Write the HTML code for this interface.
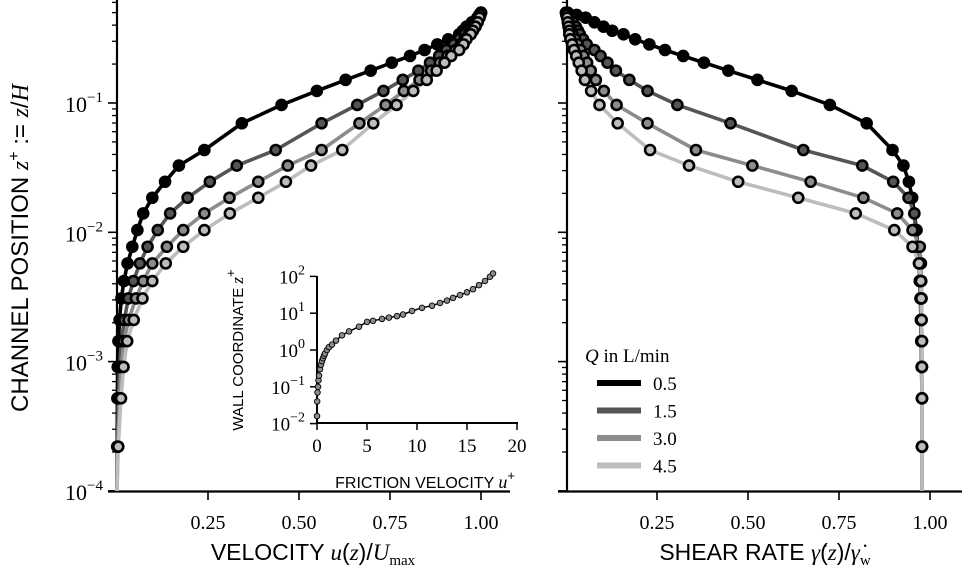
<!DOCTYPE html>
<html><head><meta charset="utf-8">
<style>
html,body{margin:0;padding:0;background:#fff;}
svg{display:block;}
.tk{font-family:"Liberation Serif",serif;font-size:20px;fill:#000;}
.lab{font-family:"Liberation Sans",sans-serif;font-size:23px;fill:#000;}
.it{font-family:"Liberation Serif",serif;font-style:italic;}
</style></head>
<body>
<svg id="chart" width="969" height="575" viewBox="0 0 969 575" xmlns="http://www.w3.org/2000/svg">
<g id="left"></g>
<g id="right"></g>
<g id="inset"></g>
<g id="legend"></g>
</svg>
<script>
// ---- data ----
const flowRates = ["0.5","1.5","3.0","4.5"];
const zPos = [0.499,0.480,0.457,0.421,0.389,0.362,0.340,0.311,0.284,0.257,0.231,0.205,0.178,0.151,0.124,0.0966,0.0697,0.0433,0.0328,0.0246,0.0185,0.0140,0.0104,0.00773,0.00575,0.00420,0.00308,0.0021,0.00144,0.00091,0.00052,0.00022];
const velQ05 = [1.0,0.995,0.99,0.975,0.96,0.95,0.94,0.91,0.88,0.845,0.805,0.755,0.697,0.628,0.549,0.452,0.343,0.240,0.170,0.132,0.097,0.072,0.056,0.042,0.029,0.019,0.012,0.007,0.004,0.002,0.001,0.0005];
const velQ15 = [1.0,0.997,0.993,0.985,0.975,0.965,0.955,0.94,0.925,0.905,0.885,0.86,0.828,0.785,0.732,0.66,0.562,0.436,0.329,0.255,0.194,0.146,0.112,0.084,0.063,0.045,0.031,0.020,0.012,0.007,0.004,0.0015];
const velQ30 = [1.0,0.998,0.995,0.989,0.982,0.975,0.967,0.955,0.945,0.93,0.908,0.887,0.863,0.831,0.788,0.738,0.666,0.562,0.469,0.388,0.309,0.240,0.182,0.137,0.097,0.072,0.052,0.032,0.019,0.012,0.007,0.0025];
const velQ45 = [1.0,0.998,0.996,0.991,0.985,0.978,0.972,0.96,0.952,0.94,0.918,0.9,0.878,0.851,0.814,0.768,0.704,0.619,0.533,0.464,0.388,0.310,0.240,0.182,0.134,0.097,0.070,0.046,0.028,0.018,0.011,0.0035];
const shearQ05 = [0.005,0.029,0.054,0.078,0.103,0.127,0.158,0.190,0.229,0.272,0.322,0.379,0.446,0.526,0.620,0.725,0.826,0.897,0.927,0.942,0.951,0.957,0.963,0.966,0.970,0.972,0.974,0.975,0.976,0.977,0.978,0.978];
const shearQ15 = [0.004,0.008,0.013,0.020,0.027,0.033,0.038,0.047,0.057,0.078,0.095,0.114,0.137,0.174,0.224,0.306,0.452,0.652,0.814,0.899,0.941,0.957,0.960,0.966,0.970,0.972,0.974,0.975,0.976,0.977,0.978,0.978];
const shearQ30 = [0.0,0.002,0.004,0.007,0.010,0.014,0.018,0.025,0.032,0.040,0.048,0.058,0.068,0.082,0.104,0.139,0.224,0.357,0.512,0.672,0.817,0.910,0.952,0.972,0.975,0.976,0.977,0.977,0.978,0.978,0.978,0.978];
const shearQ45 = [0.0,0.001,0.003,0.005,0.007,0.009,0.009,0.012,0.017,0.022,0.028,0.035,0.043,0.052,0.069,0.092,0.142,0.231,0.338,0.473,0.638,0.796,0.902,0.952,0.970,0.975,0.976,0.977,0.978,0.978,0.978,0.978];
const xTickVals = [0.25,0.50,0.75,1.00];
const xTickLabels = ["0.25","0.50","0.75","1.00"];
const yDecades = [-4,-3,-2,-1];
const insetU = [0,0.02,0.05,0.1,0.15,0.2,0.3,0.4,0.5,0.6,0.7,0.8,1.0,1.2,1.5,1.9,2.5,3.2,4.2,5.0,5.6,6.5,7.2,8.0,8.6,9.5,10.5,11.5,12.3,13.0,13.6,14.3,15.0,15.6,16.2,16.8,17.3,17.6];
const insetZ = [0.016,0.04,0.07,0.1,0.15,0.2,0.3,0.4,0.5,0.6,0.7,0.8,1.0,1.2,1.4,1.8,2.5,3.2,4.3,5.8,6.2,7.0,7.6,8.3,9.2,11.5,14,16,19,22,26,31,37,45,58,75,98,120];
const insetXTicks = [0,5,10,15,20];
const insetYDecades = [-2,-1,0,1,2];

const colors = ["#000000","#555555","#8c8c8c","#bdbdbd"];
const NS = "http://www.w3.org/2000/svg";
function mk(parent, tag, attrs){const e=document.createElementNS(NS,tag);for(const k in attrs)e.setAttribute(k,attrs[k]);parent.appendChild(e);return e;}

const yMain = z => 103 - 129.3*(Math.log10(z)+1);
const xLeft = u => 117 + 364*u;
const xRight = s => 566 + 364*s;

function drawAxes(g, x0, x1, labels, name){
  let e=mk(g,"line",{x1:x0,y1:0,x2:x0,y2:492,stroke:"#000","stroke-width":2.2});
   
  e=mk(g,"line",{x1:x0-9,y1:491.5,x2:x1,y2:491.5,stroke:"#000","stroke-width":2.2});
   
  yDecades.forEach(d=>{
    const y=yMain(Math.pow(10,d));
    mk(g,"line",{x1:x0-9,y1:y,x2:x0,y2:y,stroke:"#000","stroke-width":1.6});
    for(let m=2;m<=9;m++){const ym=yMain(m*Math.pow(10,d)); if(ym<0)continue;
      mk(g,"line",{x1:x0-5,y1:ym,x2:x0,y2:ym,stroke:"#000","stroke-width":1.3});}
    if(labels){
      const t=mk(g,"text",{x:x0-14,y:y+9,"text-anchor":"end",class:"tk"});
       
      t.setAttribute('style','font-size:22px');
      t.innerHTML='10<tspan dy="-10" font-size="15">'+(d<0?'\u2212'+(-d):d)+'</tspan>';
    }
  });
  const xs = name==='left'?xLeft:xRight;
  xTickVals.forEach((v,i)=>{
    const x=xs(v);
    mk(g,"line",{x1:x,y1:491.5,x2:x,y2:500,stroke:"#000","stroke-width":1.6});
    const t=mk(g,"text",{x:x,y:529,"text-anchor":"middle",class:"tk"});
     
    t.textContent=xTickLabels[i];
  });
}

function drawSeries(g, xs, series, endVal, name){
  series.forEach((vals,i)=>{
    const pts=vals.map((v,j)=>[xs(v),yMain(zPos[j])]);
    pts.push([xs(endVal),yMain(1e-4)]);
    const p=mk(g,"polyline",{points:pts.map(p=>p[0].toFixed(1)+","+p[1].toFixed(1)).join(" "),fill:"none",stroke:colors[i],"stroke-width":3.6,"stroke-linejoin":"round"});
     
  });
  series.forEach((vals,i)=>{
    vals.forEach((v,j)=>{
      const c=mk(g,"circle",{cx:xs(v),cy:yMain(zPos[j]),r:5,fill:colors[i],stroke:"#000","stroke-width":2.6});
       
    });
  });
}

const L=document.getElementById('left'), R=document.getElementById('right');
drawAxes(L,117,510,true,'left');
drawAxes(R,567,962,false,'right');
drawSeries(L,xLeft,[velQ05,velQ15,velQ30,velQ45],0,'velocity');
drawSeries(R,xRight,[shearQ05,shearQ15,shearQ30,shearQ45],0.978,'shear');

let t=mk(L,"text",{x:0,y:0,class:"lab",transform:"translate(28,248) rotate(-90)","text-anchor":"middle"});
 
t.setAttribute('style','font-size:24px');
t.innerHTML='CHANNEL POSITION <tspan class="it">z</tspan><tspan dy="-9" font-size="16">+</tspan><tspan dy="9"> := </tspan><tspan class="it">z</tspan>/<tspan class="it">H</tspan>';
t=mk(L,"text",{x:313,y:560,class:"lab","text-anchor":"middle"});
 
t.innerHTML='VELOCITY <tspan class="it">u</tspan>(<tspan class="it">z</tspan>)/<tspan class="it">U</tspan><tspan dy="5" font-size="15" font-family="Liberation Serif">max</tspan>';
t=mk(R,"text",{x:765,y:560,class:"lab","text-anchor":"middle"});
 
t.innerHTML='SHEAR RATE <tspan class="it">\u03B3\u0307</tspan>(<tspan class="it">z</tspan>)/<tspan class="it">\u03B3\u0307</tspan><tspan dy="5" font-size="15" font-family="Liberation Serif">w</tspan>';

// inset
const I=document.getElementById('inset');
const xIn = u => 317 + 10*u;
const yIn = z => 350 - 36.8*Math.log10(z);
mk(I,"line",{x1:317,y1:276,x2:317,y2:424,stroke:"#000","stroke-width":2});
mk(I,"line",{x1:316,y1:423,x2:518,y2:423,stroke:"#000","stroke-width":2});
insetYDecades.forEach(d=>{
  const y=yIn(Math.pow(10,d));
  mk(I,"line",{x1:310,y1:y,x2:317,y2:y,stroke:"#000","stroke-width":1.5});
  const tt=mk(I,"text",{x:305,y:y+7,"text-anchor":"end",class:"tk"});
   
  tt.setAttribute('style','font-size:19px');
  tt.innerHTML='10<tspan dy="-9" font-size="14">'+(d<0?'\u2212'+(-d):d)+'</tspan>';
});
insetXTicks.forEach(v=>{
  const x=xIn(v);
  mk(I,"line",{x1:x,y1:423,x2:x,y2:430,stroke:"#000","stroke-width":1.5});
  const tt=mk(I,"text",{x:x,y:452,"text-anchor":"middle",class:"tk"});
  tt.setAttribute('style','font-size:19px');
   
  tt.textContent=v;
});
let ip=mk(I,"polyline",{points:insetU.map((u,k)=>xIn(u).toFixed(1)+","+yIn(insetZ[k]).toFixed(1)).join(" "),fill:"none",stroke:"#000","stroke-width":1.5});
 
insetU.forEach((u,k)=>{
  const c=mk(I,"circle",{cx:xIn(u),cy:yIn(insetZ[k]),r:2.8,fill:"#8c8c8c",stroke:"#000","stroke-width":0.9});
   
});
t=mk(I,"text",{x:515,y:488,"text-anchor":"end",class:"lab"});
t.setAttribute('style','font-size:16px');
 
t.innerHTML='FRICTION VELOCITY <tspan class="it" font-size="18">u</tspan><tspan dy="-8" font-size="13">+</tspan>';
t=mk(I,"text",{x:0,y:0,class:"lab",transform:"translate(243,350) rotate(-90)","text-anchor":"middle"});
t.setAttribute('style','font-size:15px');
 
t.innerHTML='WALL COORDINATE <tspan class="it" font-size="17">z</tspan><tspan dy="-8" font-size="13">+</tspan>';

// legend
const G=document.getElementById('legend');
t=mk(G,"text",{x:585,y:362,class:"tk"});
t.setAttribute('style','font-size:19px');
 
t.innerHTML='<tspan class="it">Q</tspan> in L/min';
flowRates.forEach((q,i)=>{
  const y=383+27.5*i;
  const l=mk(G,"line",{x1:597,y1:y,x2:641,y2:y,stroke:colors[i],"stroke-width":6});
   
  const tt=mk(G,"text",{x:653,y:y+7,class:"tk"});
  tt.setAttribute('style','font-size:19px');
   
  tt.textContent=q;
});
</script>
</body></html>
